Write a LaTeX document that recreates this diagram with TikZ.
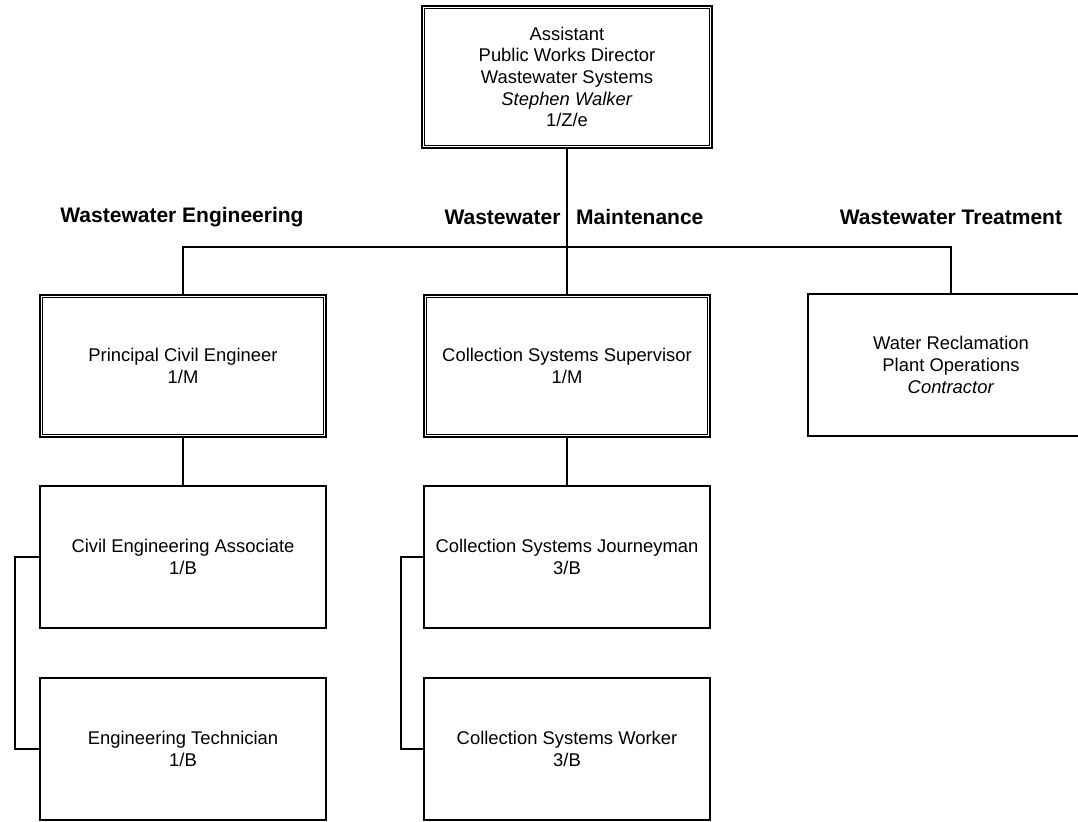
\documentclass[tikz,border=0pt]{standalone}
\usepackage{fontspec}
\setmainfont{Liberation Sans}
\usepackage{tikz}
\usetikzlibrary{backgrounds}
\tikzset{
    post/.style={draw, line width=1.1pt, minimum width=143pt, minimum height=71pt,
        inner sep=0pt, align=center, font=\fontsize{9.2}{10.8}\selectfont},
    headpost/.style={post, append after command={\pgfextra{
        \draw[line width=0.6pt] ([shift={(1.9pt,-1.9pt)}]\tikzlastnode.north west)
            rectangle ([shift={(-1.9pt,1.9pt)}]\tikzlastnode.south east);}}},
    division/.style={font=\bfseries\fontsize{10.5}{12.5}\selectfont},
    link/.style={line width=1.4pt}
}

\begin{document}
\begin{tikzpicture}[x=0.5pt, y=-0.5pt]
    \useasboundingbox (0,0) rectangle (1078,822);

    %% Director
    \node[headpost, minimum width=145pt] (director) at (567,77)
        {Assistant\\Public Works Director\\Wastewater Systems\\\textit{Stephen Walker}\\1/Z/e};

    %% Divisions
    \node[division] (engdiv) at (182,217) {Wastewater Engineering};
    \node[division] (maintdiv) at (574,217) {Wastewater\hspace{0.75em}Maintenance};
    \node[division] (treatdiv) at (951,217) {Wastewater Treatment};
    \coordinate (bus) at (0,247);

    %% Supervisors
    \node[headpost] (principal) at (183,366) {Principal Civil Engineer\\1/M};
    \node[headpost] (collsup) at (567,366) {Collection Systems Supervisor\\1/M};
    \node[post] (plant) at (951,365) {Water Reclamation\\Plant Operations\\\textit{Contractor}};

    %% Staff
    \node[post] (associate) at (183,557) {Civil Engineering Associate\\1/B};
    \node[post] (technician) at (183,749) {Engineering Technician\\1/B};
    \node[post] (journeyman) at (567,557) {Collection Systems Journeyman\\3/B};
    \node[post] (worker) at (567,749) {Collection Systems Worker\\3/B};

    %% Lines
    \begin{scope}[on background layer]
        \draw[link] (director.south) -- (collsup.north);
        \draw[link] (principal.north) -- (principal.north |- bus)
            -- (plant.north |- bus) -- (plant.north);
        \draw[link] (principal.south) -- (associate.north);
        \draw[link] (collsup.south) -- (journeyman.north);
        \draw[link] (associate.west) -- ++(-24,0) |- (technician.west);
        \draw[link] (journeyman.west) -- ++(-22,0) |- (worker.west);
    \end{scope}
\end{tikzpicture}
\end{document}
